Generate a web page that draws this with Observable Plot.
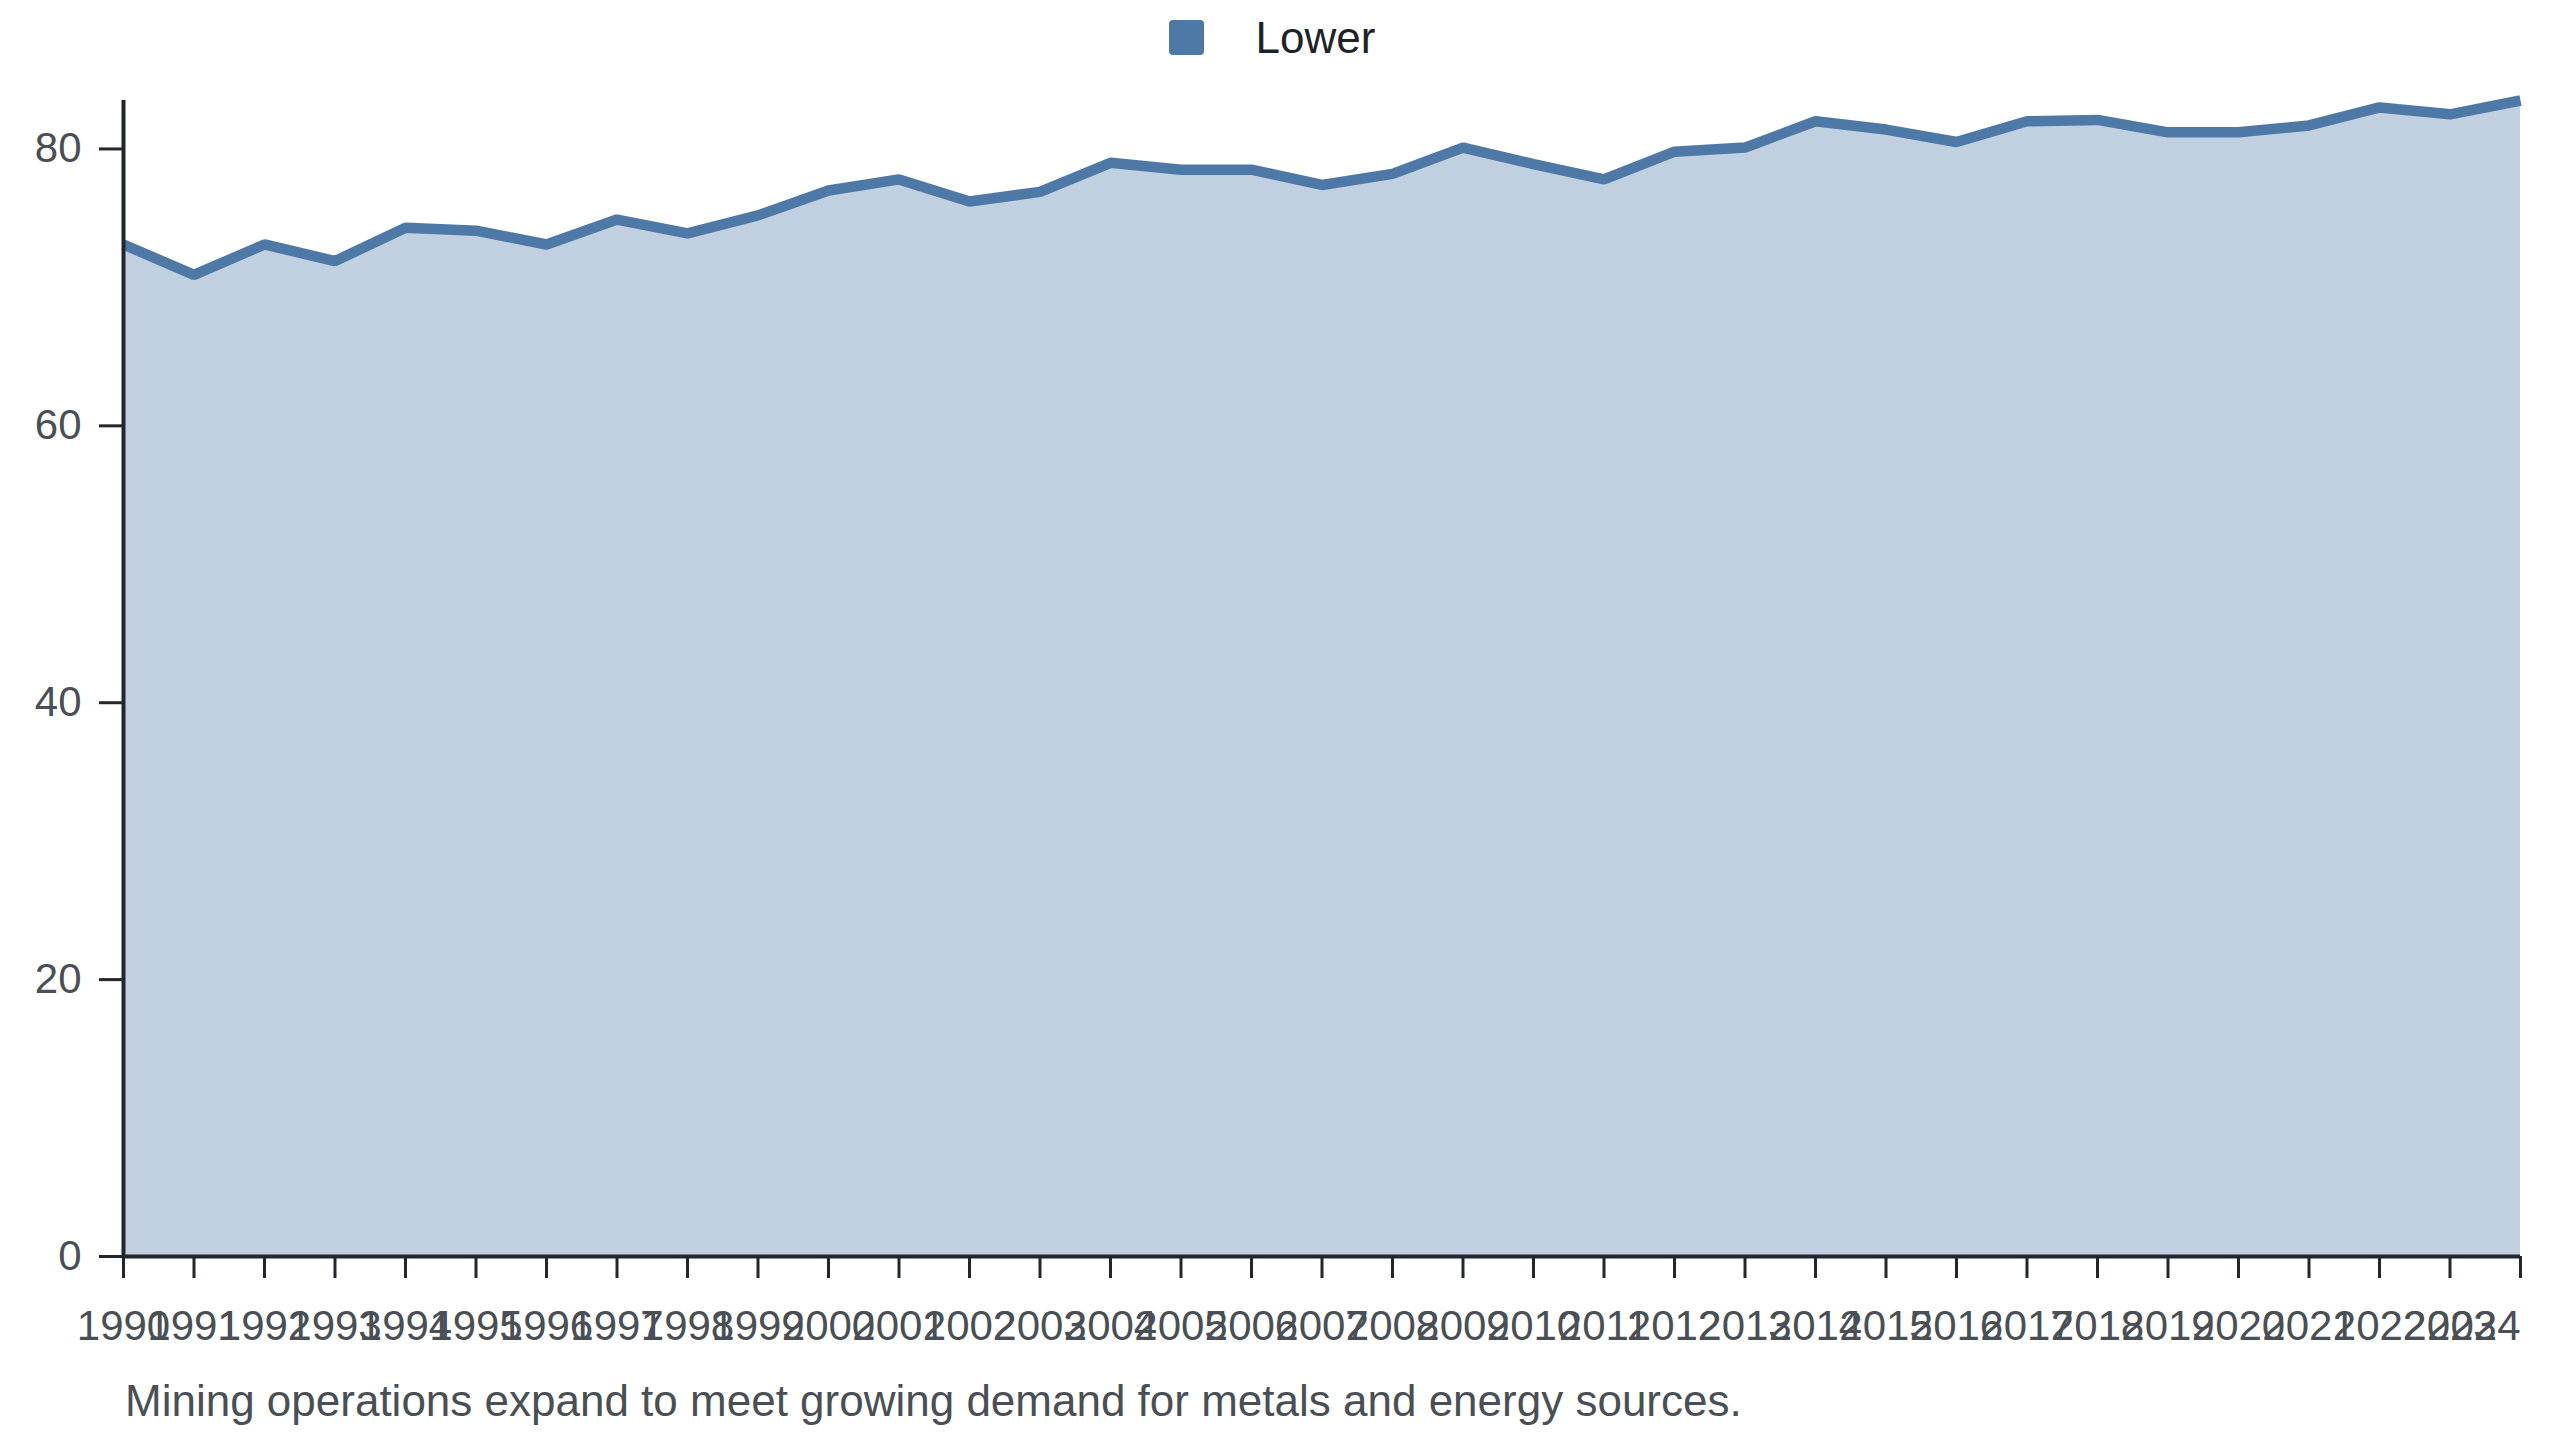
<!DOCTYPE html>
<html>
<head>
<meta charset="utf-8">
<script src="https://cdn.jsdelivr.net/npm/d3@7"></script>
<script src="https://cdn.jsdelivr.net/npm/@observablehq/plot@0.6"></script>
<style>
  html, body { margin: 0; padding: 0; background: #ffffff; }
  body { width: 2560px; font-family: "Liberation Sans", Arial, sans-serif; }
  #legend { height: 70px; box-sizing: border-box; padding-top: 20px; }
  #legend .row { display: flex; justify-content: center; align-items: center; height: 35px; padding-right: 16px; }
  #legend .sw { width: 35px; height: 35px; border-radius: 4px; background: #4e79a7; margin-right: 52px; }
  #legend .lab { font-size: 44px; color: #1f2328; }
  #chart svg { display: block; }
  #caption { padding-left: 125px; padding-top: 10px; font-size: 44px; color: #4a4f55; line-height: 1.2; }
</style>
</head>
<body>
<div id="legend"><div class="row"><div class="sw"></div><div class="lab">Lower</div></div></div>
<div id="chart"></div>
<div id="caption">Mining operations expand to meet growing demand for metals and energy sources.</div>
<script>
const years = [1990, 1991, 1992, 1993, 1994, 1995, 1996, 1997, 1998, 1999,
               2000, 2001, 2002, 2003, 2004, 2005, 2006, 2007, 2008, 2009,
               2010, 2011, 2012, 2013, 2014, 2015, 2016, 2017, 2018, 2019,
               2020, 2021, 2022, 2023, 2024];
const lowerValues = [73.1, 70.9, 73.1, 71.9, 74.3, 74.1, 73.1, 74.9, 73.9, 75.2,
                     77.0, 77.8, 76.2, 76.9, 79.0, 78.5, 78.5, 77.4, 78.2, 80.1,
                     78.9, 77.8, 79.8, 80.1, 82.0, 81.4, 80.5, 82.0, 82.1, 81.2,
                     81.2, 81.7, 83.0, 82.5, 83.5];
const yTicks = [0, 20, 40, 60, 80];
const seriesName = "Lower";

const data = years.map((y, i) => ({year: y, value: lowerValues[i], series: seriesName}));
const lastYear = years[years.length - 1];
const fmt = d => String(d);

const chart = Plot.plot({
  width: 2560,
  height: 1295,
  marginTop: 30,
  marginRight: 40,
  marginBottom: 109,
  marginLeft: 123,
  style: {
    fontFamily: "'Liberation Sans', Arial, sans-serif",
    fontSize: "42px",
    background: "#ffffff",
    overflow: "visible"
  },
  x: {type: "linear", domain: [years[0], lastYear], label: null},
  y: {domain: [0, d3.max(lowerValues)], label: null},
  marks: [
    Plot.areaY(data, {x: "year", y: "value", fill: "#4e79a7", fillOpacity: 0.35}),
    Plot.lineY(data, {x: "year", y: "value", stroke: "#4e79a7", strokeWidth: 10.5,
                      strokeLinejoin: "miter", strokeLinecap: "butt"}),
    Plot.axisY({ticks: yTicks, tickFormat: fmt, tickSize: 24, tickPadding: 18, label: null,
                stroke: "#23262b", fill: "#4a4f55", strokeWidth: 3, fontSize: 42}),
    Plot.axisX({ticks: years.slice(0, -1), tickFormat: fmt, tickSize: 22, tickPadding: 32, label: null,
                stroke: "#23262b", fill: "#4a4f55", strokeWidth: 3, fontSize: 42}),
    Plot.axisX({ticks: [lastYear], tickFormat: fmt, tickSize: 22, tickPadding: 32, textAnchor: "end", label: null,
                stroke: "#23262b", fill: "#4a4f55", strokeWidth: 3, fontSize: 42}),
    Plot.ruleX([years[0]], {stroke: "#23262b", strokeWidth: 4}),
    Plot.ruleY([0], {stroke: "#23262b", strokeWidth: 4})
  ]
});
document.getElementById("chart").appendChild(chart);
</script>
</body>
</html>
